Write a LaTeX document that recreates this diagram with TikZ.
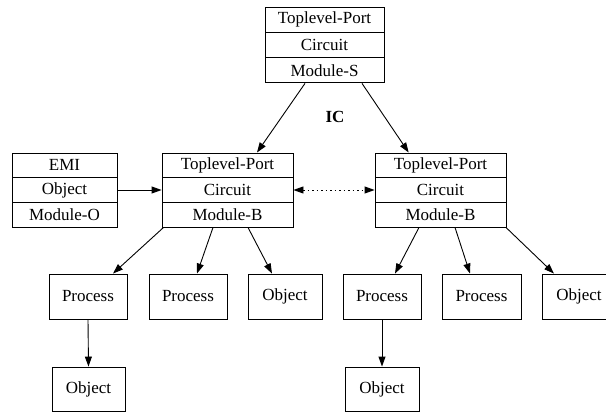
\documentclass[tikz,border=0pt]{standalone}
\usepackage{fontspec}
\setmainfont{Liberation Serif}
\usetikzlibrary{arrows.meta}
\begin{document}
\begin{tikzpicture}[x=1pt,y=-1pt,
  cell/.style={draw,line width=0.9pt,inner sep=0pt,font=\fontsize{17}{20}\selectfont},
  rec/.style={cell,minimum width=131pt,minimum height=24.67pt},
  box/.style={cell,minimum width=78pt,minimum height=45pt},
  obox/.style={cell,minimum width=74pt,minimum height=44pt},
  arr/.style={line width=0.9pt,-{Triangle[length=10pt,width=7pt]}},
  darr/.style={line width=0.9pt,dash pattern=on 1.5pt off 3pt,{Triangle[length=10pt,width=7pt]}-{Triangle[length=10pt,width=7pt]}}]
\clip (0,0) rectangle (606,412);
\fill[white] (0,0) rectangle (606,412);
% top record
\node[rec,minimum width=119pt,minimum height=25.3pt] (topP) at (324.5,19.7) {Toplevel-Port};
\node[rec,minimum width=119pt,minimum height=25.3pt] (topC) at (324.5,45) {Circuit};
\node[rec,minimum width=119pt,minimum height=25.3pt] (topM) at (324.5,70.3) {Module-S};
% EMI record
\node[rec,minimum width=105pt] (emiE) at (64.5,165.3) {EMI};
\node[rec,minimum width=105pt] (emiC) at (64.5,190) {Object};
\node[rec,minimum width=105pt] (emiM) at (64.5,214.7) {Module-O};
% left B record
\node[rec] (lP) at (227.5,165.3) {Toplevel-Port};
\node[rec] (lC) at (227.5,190) {Circuit};
\node[rec] (lM) at (227.5,214.7) {Module-B};
% right B record
\node[rec] (rP) at (440.5,165.3) {Toplevel-Port};
\node[rec] (rC) at (440.5,190) {Circuit};
\node[rec] (rM) at (440.5,214.7) {Module-B};
% IC label
\node[font=\fontsize{17}{20}\selectfont\bfseries] (ic) at (335,117) {IC};
% second row
\node[box] (p1) at (88,296.5) {Process};
\node[box] (p2) at (188,296.5) {Process};
\node[obox,minimum height=45pt] (o1) at (285,296.5) {Object};
\node[box] (p3) at (382,296.5) {Process};
\node[box,minimum width=79pt] (p4) at (481.5,296.5) {Process};
\node[obox,minimum height=45pt] (o2) at (579,296.5) {Object};
% bottom row
\node[obox,minimum width=73pt] (o3) at (88.5,389) {Object};
\node[obox] (o4) at (382,389) {Object};
% connectors
\draw[arr] ([xshift=-19.5pt]topM.south) -- ([xshift=29.5pt]lP.north);
\draw[arr] ([xshift=37.5pt]topM.south) -- ([xshift=-31.8pt]rP.north);
\draw[arr] (emiC.east) -- (lC.west);
\draw[darr] (lC.east) -- (rC.west);
\draw[arr] ([xshift=-64pt]lM.south) -- ([xshift=25pt]p1.north);
\draw[arr] ([xshift=-14.5pt]lM.south) -- ([xshift=9pt]p2.north);
\draw[arr] ([xshift=20.5pt]lM.south) -- ([xshift=-13pt]o1.north);
\draw[arr] ([xshift=-21.5pt]rM.south) -- ([xshift=13pt]p3.north);
\draw[arr] ([xshift=14.5pt]rM.south) -- ([xshift=-11.5pt]p4.north);
\draw[arr] ([xshift=65.5pt]rM.south) -- ([xshift=-25pt]o2.north);
\draw[arr] (p1.south) -- (o3.north);
\draw[arr] (p3.south) -- (o4.north);
\end{tikzpicture}
\end{document}
